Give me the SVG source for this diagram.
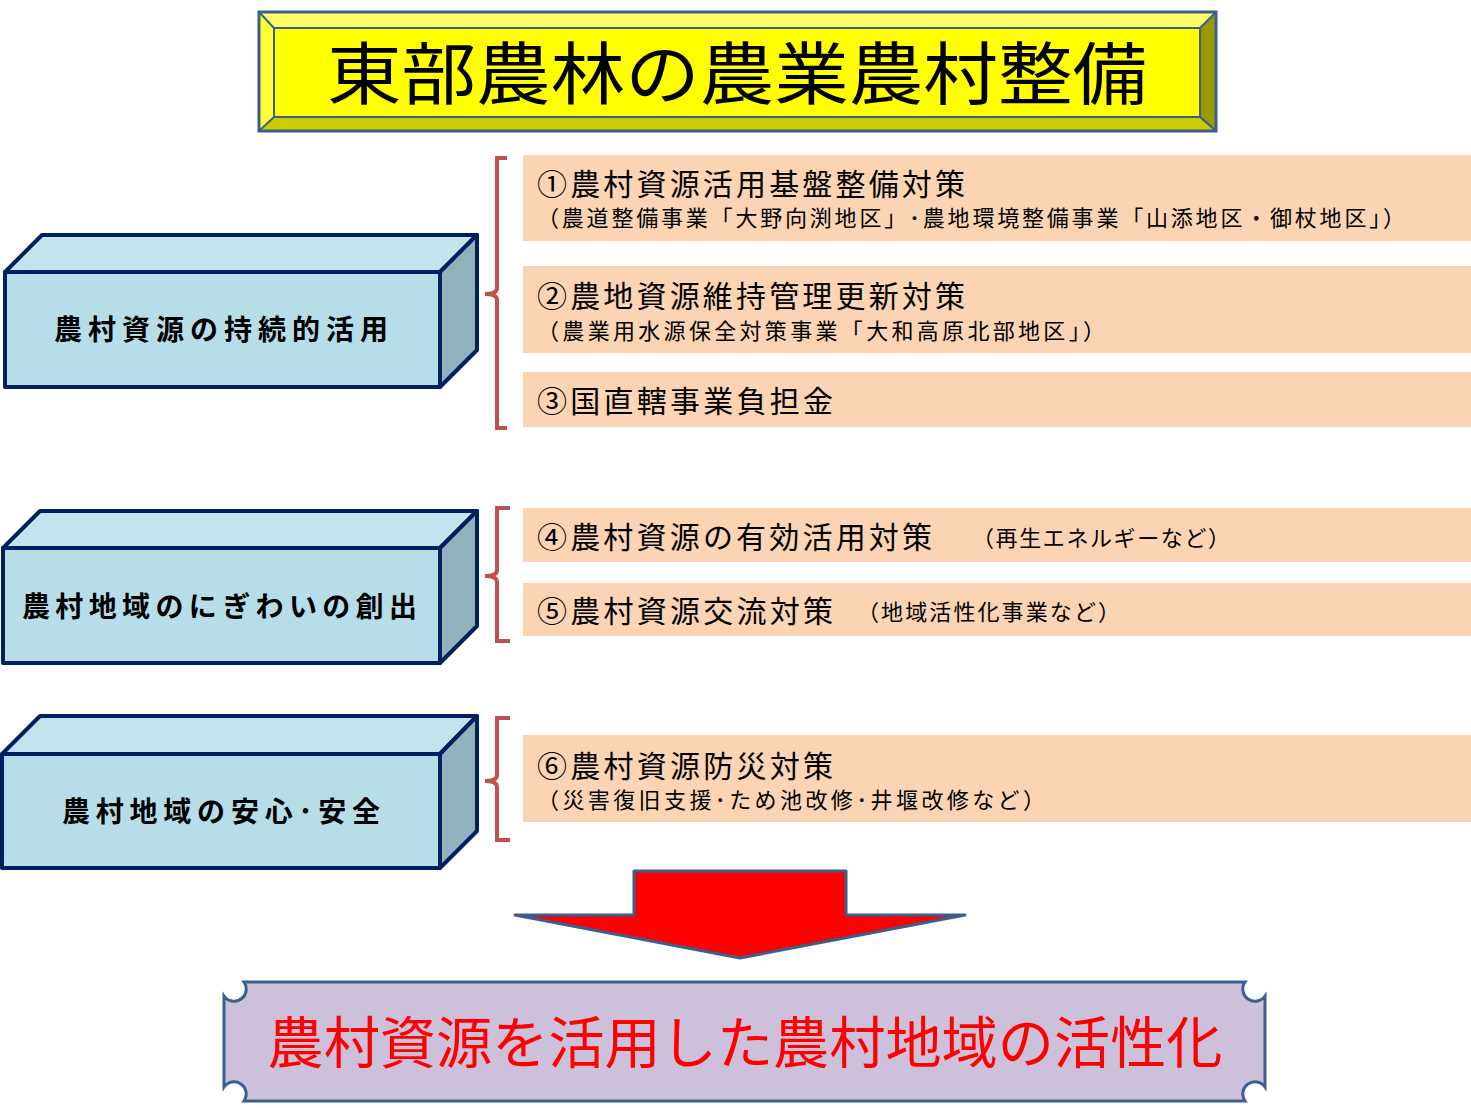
<svg xmlns="http://www.w3.org/2000/svg" width="1471" height="1108" viewBox="0 0 1471 1108">
<style>
.f{font-family:"Noto Sans CJK JP","Liberation Sans",sans-serif}
.box{stroke:#002060;stroke-width:4;stroke-linejoin:round}
.br{fill:none;stroke:#c0504d;stroke-width:4}
.pe{fill:#fbd4b4}
.t1{font-size:30px;fill:#000}
.t2{font-size:22px;fill:#000}
.bl{font-size:28px;font-weight:bold;fill:#000}
</style>
<rect width="1471" height="1108" fill="#fff"/>
<g id="title">
<polygon points="259,12 1216,12 1200,28 274,28" fill="#ffff66"/>
<polygon points="259,131 1216,131 1200,117 274,117" fill="#cccc00"/>
<polygon points="259,12 274,28 274,117 259,131" fill="#ffff33"/>
<polygon points="1216,12 1200,28 1200,117 1216,131" fill="#999900"/>
<rect x="274" y="28" width="926" height="89" fill="#ffff00"/>
<g fill="none" stroke="#3a5f8f" stroke-width="3"><rect x="259" y="12" width="957" height="119"/><rect x="274" y="28" width="926" height="89" stroke-width="2"/>
<path d="M259 12L274 28M1216 12L1200 28M259 131L274 117M1216 131L1200 117" stroke-width="2"/></g>
<text class="f" x="737" y="99" font-size="68" text-anchor="middle" textLength="820" lengthAdjust="spacingAndGlyphs">東部農林の農業農村整備</text>
</g>
<g id="box1">
<polygon class="box" points="5,272 42,235 477,235 440,272" fill="#c5e3ed"/>
<polygon class="box" points="440,272 477,235 477,350 440,387" fill="#93b1bb"/>
<rect class="box" x="5" y="272" width="435" height="115" fill="#b7dde8"/>
<text class="f bl" x="54" y="340" textLength="334">農村資源の持続的活用</text>
</g>
<g id="box2">
<polygon class="box" points="3,548 40,511 477,511 440,548" fill="#c5e3ed"/>
<polygon class="box" points="440,548 477,511 477,626 440,663" fill="#93b1bb"/>
<rect class="box" x="3" y="548" width="437" height="115" fill="#b7dde8"/>
<text class="f bl" x="22" y="617" textLength="395">農村地域のにぎわいの創出</text>
</g>
<g id="box3">
<polygon class="box" points="2,754 40,716 477,716 440,754" fill="#c5e3ed"/>
<polygon class="box" points="440,754 477,716 477,831 440,868" fill="#93b1bb"/>
<rect class="box" x="2" y="754" width="438" height="114" fill="#b7dde8"/>
<text class="f bl" x="62" y="822" textLength="318">農村地域の安心･安全</text>
</g>
<g id="connectors">
<path class="br" d="M507 158H497V288Q497 294 485 294Q497 294 497 300V428H507"/>
<path class="br" d="M510 508H497V570Q497 576 485 576Q497 576 497 582V641H510"/>
<path class="br" d="M510 718H497V775Q497 781 485 781Q497 781 497 787V840H510"/>
<polygon points="634,871 846,871 846,915 965,915 740,958 515,915 634,915" fill="#ff0000" stroke="#3a5f8f" stroke-width="3" stroke-linejoin="round"/>
</g>
<g id="items">
<rect class="pe" x="523" y="155" width="948" height="86"/>
<text class="f t1" x="537" y="195" textLength="428">①農村資源活用基盤整備対策</text>
<text class="f t2" x="537" y="226" textLength="868">（農道整備事業「大野向渕地区」･農地環境整備事業「山添地区・御杖地区」）</text>
<rect class="pe" x="523" y="266" width="948" height="87"/>
<text class="f t1" x="537" y="307" textLength="428">②農地資源維持管理更新対策</text>
<text class="f t2" x="537" y="339" textLength="568">（農業用水源保全対策事業「大和高原北部地区」）</text>
<rect class="pe" x="523" y="372" width="948" height="55"/>
<text class="f t1" x="537" y="412" textLength="296">③国直轄事業負担金</text>
<rect class="pe" x="523" y="508" width="948" height="54"/>
<text class="f t1" x="537" y="548" textLength="395">④農村資源の有効活用対策</text>
<text class="f t2" x="972" y="546" textLength="258">（再生エネルギーなど）</text>
<rect class="pe" x="523" y="583" width="948" height="53"/>
<text class="f t1" x="537" y="622" textLength="296">⑤農村資源交流対策</text>
<text class="f t2" x="857" y="620" textLength="263">（地域活性化事業など）</text>
<rect class="pe" x="523" y="735" width="948" height="87"/>
<text class="f t1" x="537" y="777" textLength="296">⑥農村資源防災対策</text>
<text class="f t2" x="537" y="808" textLength="508">（災害復旧支援･ため池改修･井堰改修など）</text>
</g>
<g id="result">
<path d="M244 982H1245A12 12 0 0 0 1265 996V1087A12 12 0 0 0 1245 1101H244A12 12 0 0 0 224 1087V996A12 12 0 0 0 244 982Z" fill="#ccc0da" stroke="#3a5f8f" stroke-width="3"/>
<text class="f" x="745" y="1063" font-size="56" fill="#ff0000" text-anchor="middle" textLength="955" lengthAdjust="spacingAndGlyphs">農村資源を活用した農村地域の活性化</text>
</g>
</svg>
